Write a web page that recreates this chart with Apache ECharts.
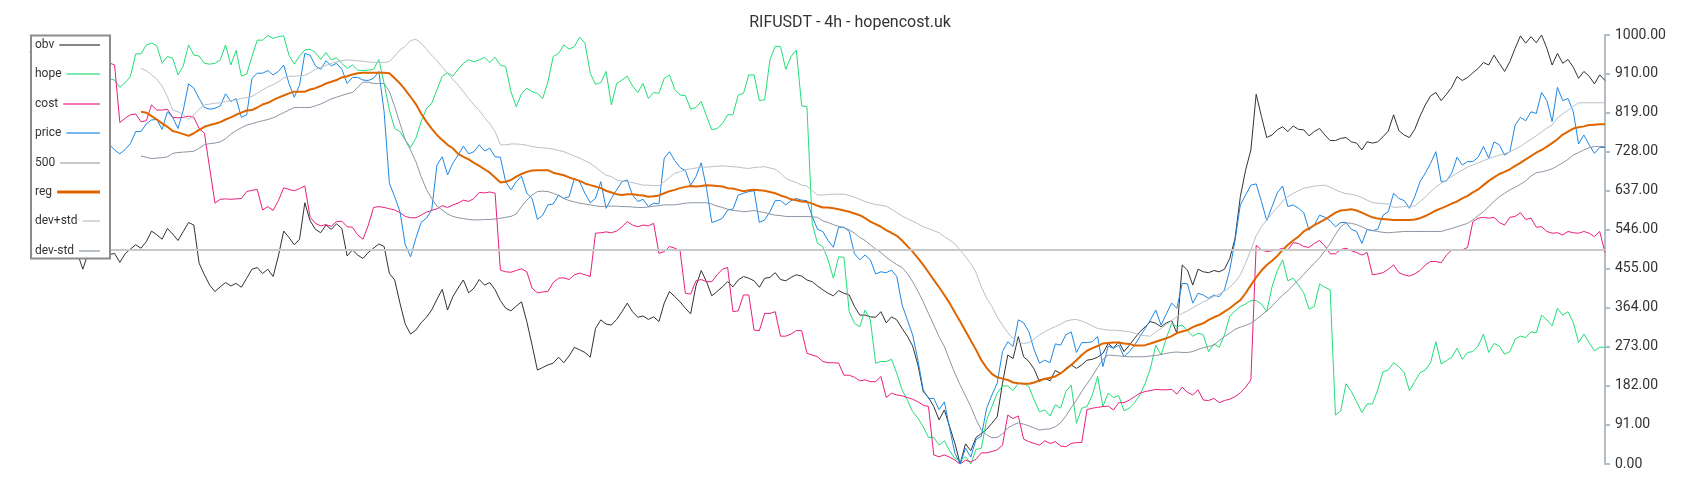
<!DOCTYPE html>
<html><head><meta charset="utf-8">
<script src="https://cdn.jsdelivr.net/npm/echarts@6/dist/echarts.min.js"></script>
<style>html,body{margin:0;padding:0;background:#fff}#chart{width:1700px;height:500px}</style>
</head><body><div id="chart"></div>
<script>
// ---- data (normalised 0..1000), one value per 4h candle ----
const obv = [520,505,530,510,495,515,500,490,505,490,454,492,500,492,485,488,
491,470,490,501,511,503,518,543,534,524,549,536,521,542,563,557,468,441,417,402,
413,423,415,421,412,433,454,458,444,454,437,485,543,528,511,524,609,567,547,539,
557,547,560,549,485,499,487,479,493,503,513,507,444,429,375,326,303,312,329,342,
359,384,407,359,390,410,429,399,410,430,417,423,406,381,363,357,368,378,332,277,
219,225,231,235,249,236,252,272,266,260,249,316,336,326,324,337,355,375,355,342,
345,337,343,332,375,402,390,378,363,350,415,451,425,392,402,413,425,413,429,437,
433,427,412,433,435,446,430,427,435,441,438,429,425,415,406,398,392,404,398,394,
367,347,347,343,342,355,329,343,336,316,298,275,231,169,155,134,103,126,87,48,
0,47,31,62,71,81,95,110,188,254,246,297,250,239,221,192,200,194,218,211,
223,231,223,231,242,244,249,258,281,270,285,262,277,293,308,320,332,328,320,329,
334,305,464,452,417,454,448,446,451,448,454,479,526,623,685,732,862,810,761,767,
779,786,775,788,780,779,765,775,782,767,754,754,759,761,751,748,732,751,748,751,
763,776,814,777,767,761,780,811,837,858,866,847,862,878,903,894,901,912,922,936,
930,953,934,915,938,969,998,981,996,982,1000,969,930,957,934,943,925,899,915,904,886,907,894];

const hope = [930,945,960,940,925,950,965,940,920,935,955,945,925,910,900,898,
895,878,889,903,956,956,977,981,975,934,950,946,907,928,977,953,951,934,932,934,
942,977,930,964,904,909,950,988,988,999,992,996,998,953,932,951,965,967,959,943,
959,942,947,934,922,930,918,917,918,920,943,887,825,782,775,755,738,759,798,828,
841,872,904,912,904,920,934,942,938,942,948,936,948,930,926,868,833,863,876,868,
864,852,891,950,957,977,967,973,995,981,911,885,889,915,837,887,895,904,881,866,
887,852,866,864,899,907,873,860,859,827,831,845,811,779,782,793,814,814,860,864,
907,907,847,849,942,974,973,920,950,965,835,833,561,514,507,476,433,483,482,355,
328,320,359,336,235,239,239,244,211,173,149,122,107,87,62,62,44,54,31,13,
8,17,0,34,37,103,134,165,182,182,171,188,188,180,149,122,126,112,138,130,
169,184,95,130,134,161,204,134,165,155,159,124,130,143,161,188,223,277,254,293,
328,320,324,310,
298,305,301,262,280,272,301,344,357,367,373,381,381,373,355,413,451,476,427,433,
417,399,361,367,420,412,406,114,124,187,169,145,120,140,140,173,215,219,236,227,
213,171,192,213,219,236,285,233,241,249,270,244,260,262,275,303,260,281,275,256,
262,291,298,295,308,306,347,336,322,363,347,355,330,283,303,283,264,272,272];

const cost = [960,975,990,1000,985,970,980,995,975,960,950,965,955,945,940,935,
930,796,806,814,816,798,800,837,825,825,827,808,807,808,811,808,782,771,689,608,
617,618,617,618,619,635,638,640,592,600,591,614,644,640,637,642,648,575,561,555,
558,554,565,566,553,552,534,524,556,598,600,598,595,592,586,577,574,574,580,587,
591,595,602,598,604,608,615,612,619,633,632,634,631,452,448,447,451,455,448,410,
399,401,402,423,433,434,430,441,445,441,437,538,539,541,539,543,553,565,557,553,
557,555,561,491,495,507,503,497,398,396,427,430,425,425,441,454,458,355,357,394,
394,312,311,351,351,355,298,298,303,311,311,258,254,250,239,236,236,235,207,207,
202,194,196,192,192,204,155,165,161,159,155,151,145,137,134,21,17,21,16,9,
0,9,5,11,26,26,29,33,44,114,106,112,58,52,48,44,54,48,52,42,
40,48,50,50,127,130,132,134,135,126,143,143,149,157,165,169,171,174,173,173,
174,163,179,167,
161,173,149,148,153,143,148,151,157,166,179,196,510,499,495,497,499,503,499,516,
514,507,505,514,521,508,490,490,500,503,497,493,487,493,441,443,446,454,464,446,
441,438,443,451,464,472,472,469,487,499,500,499,505,565,573,575,573,575,563,557,
575,577,586,570,573,552,553,542,538,539,534,542,539,538,542,538,530,542,493];

const price = [960,985,995,1000,990,970,950,930,900,880,850,830,800,780,760,745,
732,723,733,747,775,775,793,802,803,780,821,808,782,825,886,876,852,831,827,829,
835,863,845,852,808,814,899,911,911,917,907,915,930,887,855,883,957,953,928,920,
940,928,934,920,887,901,901,895,894,899,915,821,654,623,588,511,483,526,563,573,
592,697,716,674,701,720,741,723,728,744,730,736,716,715,658,639,658,671,631,619,
570,580,604,606,627,619,623,666,658,631,609,619,658,596,619,639,658,662,627,612,
617,600,608,606,713,728,707,691,684,650,670,702,643,563,567,573,592,594,627,631,
635,637,563,569,588,614,614,604,614,619,615,614,577,547,542,521,505,552,552,542,
490,476,487,476,443,448,446,452,437,371,336,301,242,173,153,153,127,145,83,25,
0,37,16,57,65,130,161,188,262,285,274,336,329,308,266,235,242,236,280,277,
301,308,260,283,283,285,297,227,275,270,277,250,262,277,297,316,336,359,324,350,
375,363,421,420,
375,398,394,386,394,390,406,452,521,604,627,650,653,612,567,600,632,648,600,604,
596,586,545,557,580,575,567,553,563,563,547,542,514,547,544,547,580,588,631,619,
614,596,623,658,678,701,728,658,660,678,715,697,705,705,715,740,713,751,744,720,
728,790,808,800,821,817,866,847,798,878,847,852,821,746,767,744,724,738,738];

// regression line and its bands start after the look-back window
const bandStart = 21;
const reg = [821,819,811,803,794,786,776,773,769,765,771,779,786,790,793,797,803,808,814,819,
824,825,831,838,842,848,854,859,864,868,868,868,873,876,881,887,891,895,901,904,
908,911,912,912,912,912,912,911,899,887,872,856,839,817,798,782,767,755,744,736,
723,716,710,702,695,687,679,668,656,658,662,670,676,681,684,685,685,685,679,676,
673,668,664,660,654,650,647,643,637,633,629,627,629,629,627,626,623,624,626,631,
636,639,643,646,648,647,648,650,649,648,647,643,642,639,636,638,639,638,637,634,
631,626,622,617,615,612,611,607,602,598,598,596,594,591,588,584,580,573,565,559,
553,545,539,532,521,508,495,480,464,447,429,412,394,375,353,332,310,288,266,242,
224,210,202,199,196,190,188,187,187,190,195,198,201,204,211,221,231,242,254,264,
270,275,281,282,283,283,281,280,276,276,277,281,285,289,293,298,305,309,312,319,
324,328,336,342,347,355,363,373,382,398,417,435,451,464,474,485,499,511,521,530,
542,549,557,563,570,578,586,591,592,594,591,586,580,575,572,571,570,569,569,569,
569,570,573,578,584,591,596,601,607,612,619,625,633,640,650,660,668,676,681,687,
695,702,710,718,726,732,740,748,757,768,775,782,785,787,790,791,792,792];

const devPlus = [922,917,907,897,881,856,825,821,814,803,814,827,837,839,841,842,845,847,849,852,
854,857,864,872,879,884,891,900,904,904,905,906,912,920,925,929,934,937,940,942,
941,940,939,937,936,936,936,938,951,965,974,987,990,981,967,953,940,925,911,897,
883,868,852,837,824,808,793,775,744,744,746,746,745,743,740,738,737,736,734,731,
728,723,718,713,707,701,692,682,673,670,662,660,658,656,653,650,650,649,649,658,
668,678,681,686,688,690,692,692,693,694,695,694,693,692,690,689,691,692,693,690,
687,678,666,660,656,650,648,637,627,627,628,629,629,629,626,622,617,612,608,605,
603,601,594,586,578,572,566,560,553,549,544,539,530,522,513,499,483,468,446,413,
386,367,343,324,306,293,284,281,283,291,301,308,315,320,326,333,336,337,333,328,
322,316,314,312,312,311,310,308,305,301,299,298,308,316,325,334,343,351,357,364,
371,378,384,390,396,403,412,424,441,468,499,532,553,569,584,598,613,623,631,637,
643,645,648,649,650,645,639,634,630,629,626,621,615,609,608,607,606,598,599,600,
601,601,612,622,635,646,654,662,670,678,685,692,697,702,707,712,716,720,723,728,
734,740,749,757,765,774,783,790,807,816,825,834,842,842,842,842,842,842];

const devMinus = [718,715,712,713,714,716,724,726,727,728,729,736,744,747,748,751,758,769,777,784,
790,793,797,800,803,807,813,819,825,831,831,831,831,835,839,845,851,855,859,863,
866,878,890,890,887,887,887,868,833,794,755,732,705,670,640,619,601,592,583,577,
574,572,570,569,569,570,570,571,573,575,577,583,600,615,627,635,636,635,631,626,
619,614,611,608,606,604,602,600,601,601,601,600,600,599,598,598,599,601,602,604,
604,604,606,608,609,609,609,609,606,601,598,594,591,590,588,589,591,588,586,583,
580,579,577,577,577,577,577,576,575,567,563,558,554,551,546,538,528,521,511,501,
493,482,473,465,458,444,425,403,378,351,324,297,274,242,211,184,159,134,104,79,
68,61,62,70,84,91,96,93,89,84,79,81,82,87,96,112,131,149,169,187,
205,225,244,254,253,252,251,250,250,250,250,252,253,255,258,260,261,260,260,262,
267,271,274,277,288,297,305,314,319,323,328,337,347,357,368,381,394,404,417,429,
442,455,468,481,497,514,535,553,562,561,558,553,547,544,542,540,539,540,541,542,
542,542,542,542,542,542,542,546,549,553,557,561,569,579,588,600,612,623,631,639,
645,652,660,671,679,681,684,688,695,702,710,720,726,732,737,740,740,740];

const level500 = 500;
const yTickInterval = 91;
const yMin = 0, yMax = 1000;
const titleText = 'RIFUSDT - 4h - hopencost.uk';
const categories = obv.map((_, i) => String(i));

// ---- chart ----
const FONT = 'Roboto, "Noto Sans", sans-serif';
const padBand = arr => new Array(bandStart).fill(null).concat(arr);

const seriesDefs = [
  {name: 'obv',     data: obv,              color: '#333333', width: 1,   legendW: 2, legendOp: 0.6},
  {name: 'hope',    data: hope,             color: '#22dd77', width: 1,   legendW: 2, legendOp: 0.6},
  {name: 'cost',    data: cost,             color: '#e91e7d', width: 1,   legendW: 2, legendOp: 0.6},
  {name: 'price',   data: price,            color: '#1e88e5', width: 1,   legendW: 2, legendOp: 0.6},
  {name: '500',     data: null,             color: '#c8c8c8', width: 2,   legendW: 2, legendOp: 1},
  {name: 'reg',     data: padBand(reg),     color: '#df6500', width: 2,   legendW: 3, legendOp: 1},
  {name: 'dev+std', data: padBand(devPlus), color: '#b9c0c7', width: 1,   legendW: 2, legendOp: 0.6},
  {name: 'dev-std', data: padBand(devMinus),color: '#8a96a2', width: 1,   legendW: 2, legendOp: 0.6}
];

const series = seriesDefs.map(d => {
  const s = {
    name: d.name, type: 'line', symbol: 'none', showSymbol: false,
    data: d.data || [], color: d.color, z: 2, zlevel: 0,
    lineStyle: {width: d.width, color: d.color},
    emphasis: {disabled: true}, animation: false, connectNulls: false
  };
  if (d.data === null) {
    s.markLine = {
      silent: true, symbol: 'none', animation: false,
      label: {show: false},
      lineStyle: {color: d.color, width: d.width, type: 'solid'},
      data: [{yAxis: level500}]
    };
  }
  return s;
});

// legend: text on the left, line sample reaching a common right edge
const measure = document.createElement('canvas').getContext('2d');
measure.font = 'normal 12px Roboto';
const legendLeft = 35, iconRight = 100, legendCenter0 = 45, legendStep = 29.4;
const legends = seriesDefs.map((d, k) => {
  const tw = measure.measureText(d.name).width;
  return {
    orient: 'vertical', left: legendLeft, top: Math.round(legendCenter0 + k * legendStep - 6),
    padding: 0, itemGap: 0, align: 'right', zlevel: 1, z: 5,
    icon: 'rect', itemWidth: Math.max(6, iconRight - legendLeft - 5 - tw), itemHeight: d.legendW,
    itemStyle: {color: d.color, opacity: d.legendOp, borderWidth: 0},
    data: [d.name],
    textStyle: {fontSize: 12, color: '#333', fontFamily: FONT},
    selectedMode: false
  };
});

const chart = echarts.init(document.getElementById('chart'), null, {renderer: 'canvas'});
chart.setOption({
  animation: false,
  backgroundColor: '#ffffff',
  title: {
    text: titleText, left: 'center', top: 10,
    textStyle: {fontSize: 16, fontWeight: 'normal', color: '#333', fontFamily: FONT}
  },
  legend: legends,
  graphic: {
    zlevel: 1, z: 3,
    elements: [{
      type: 'rect', zlevel: 1, z: 3, silent: true,
      shape: {x: 31, y: 35.5, width: 79, height: 223},
      style: {fill: '#ffffff', stroke: '#8c8c8c', lineWidth: 2}
    }]
  },
  grid: {left: 30, right: 95, top: 35, bottom: 36, containLabel: false},
  xAxis: {type: 'category', data: categories, boundaryGap: false, show: false},
  yAxis: {
    type: 'value', position: 'right', min: yMin, max: yMax, interval: yTickInterval,
    splitLine: {show: false},
    axisLine: {show: true, lineStyle: {color: '#b3bdc6', width: 2}},
    axisTick: {show: true, length: 5, lineStyle: {color: '#b3bdc6', width: 2}},
    axisLabel: {
      margin: 10, color: '#333', fontSize: 14, fontFamily: FONT,
      formatter: v => Number(v).toFixed(2)
    }
  },
  series: series
});
</script></body></html>
